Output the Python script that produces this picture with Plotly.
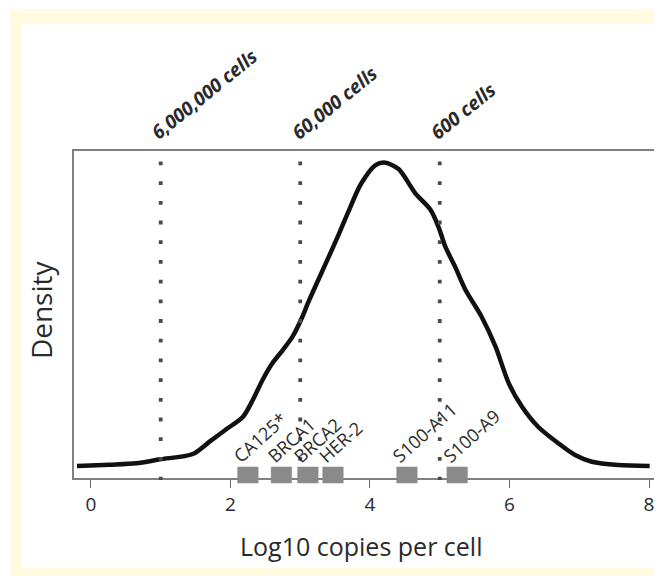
import plotly.graph_objects as go

# ---- data ----
log_copies = [-0.2, 0.27, 0.65, 0.99, 1.46, 1.70, 1.94, 2.18, 2.32, 2.46, 2.60, 2.75,
              2.89, 3.01, 3.13, 3.41, 3.56, 3.70, 3.87, 4.08, 4.22, 4.41, 4.65, 4.87,
              4.99, 5.08, 5.22, 5.37, 5.60, 5.80, 5.99, 6.18, 6.41, 6.70, 6.94, 7.18,
              7.56, 8.01]
density = [0.0000, 0.0012, 0.0026, 0.0065, 0.0118, 0.0240, 0.0363, 0.0487, 0.0653,
           0.0851, 0.1016, 0.1148, 0.1280, 0.1445, 0.1644, 0.2073, 0.2307, 0.2535,
           0.2793, 0.2981, 0.3004, 0.2941, 0.2701, 0.2535, 0.2354, 0.2172, 0.1974,
           0.1743, 0.1478, 0.1181, 0.0818, 0.0586, 0.0388, 0.0224, 0.0108, 0.0041,
           0.0009, 0.0000]

cell_lines_x = [1, 3, 5]
cell_labels = ["6,000,000 cells", "60,000 cells", "600 cells"]

genes = ["CA125*", "BRCA1", "BRCA2", "HER-2", "S100-A11", "S100-A9"]
gene_pos = [2.25, 2.73, 3.11, 3.47, 4.53, 5.25]

x_ticks = [0, 2, 4, 6, 8]

# ---- layout geometry ----
# the page body has an 8px margin, so the figure is drawn 8px in from the window corner
OFF = 8
W, H = 662 - OFF, 576 - OFF
PLOT_L, PLOT_R, PLOT_T, PLOT_B = 74, 657, 151, 478   # window pixels
ML, MR, MT, MB = PLOT_L - OFF, W - (PLOT_R - OFF), PLOT_T - OFF, H - (PLOT_B - OFF)
PW = W - ML - MR
PH = H - MT - MB


def px_x(px):
    return (px - PLOT_L) / PW


def px_y(py):
    return (PLOT_B - py) / PH


FONT = "Open Sans"
TXT = "#2a2a2a"
YELLOW = "#fffae0"

fig = go.Figure()
fig.add_trace(go.Scatter(
    x=log_copies, y=density, mode="lines",
    line=dict(color="#111111", width=4.5, shape="spline", smoothing=0.8),
    hoverinfo="skip", showlegend=False))

shapes = []
# framed background
shapes.append(dict(type="rect", xref="paper", yref="paper", layer="below",
                   x0=px_x(10), x1=px_x(670), y0=px_y(9), y1=px_y(580),
                   fillcolor=YELLOW, line=dict(width=0)))
shapes.append(dict(type="rect", xref="paper", yref="paper", layer="below",
                   x0=px_x(21), x1=px_x(670), y0=px_y(24), y1=px_y(568),
                   fillcolor="white", line=dict(width=0)))
# dotted cell-count lines
for xv in cell_lines_x:
    shapes.append(dict(type="line", xref="x", yref="paper", layer="above",
                       x0=xv, x1=xv, y0=px_y(161.5), y1=px_y(480),
                       line=dict(color="#4a4a4a", width=3.8, dash="3.8px,15.9px")))
# gene markers
half_w = 0.147
for g in gene_pos:
    shapes.append(dict(type="rect", xref="x", yref="paper", layer="above",
                       x0=g - half_w, x1=g + half_w, y0=px_y(483), y1=px_y(467),
                       fillcolor="#8a8a8a", line=dict(color="#8a8a8a", width=0.5)))

annotations = []
for xv, lab in zip(cell_lines_x, cell_labels):
    annotations.append(dict(x=xv, y=px_y(148), xref="x", yref="paper",
                            text="<b><i>" + lab + "</i></b>", showarrow=False,
                            textangle=-39, xanchor="left", yanchor="bottom",
                            xshift=-17,
                            font=dict(family=FONT, size=19, color=TXT)))
for g, lab in zip(gene_pos, genes):
    annotations.append(dict(x=g - half_w, y=px_y(470), xref="x", yref="paper",
                            text=lab, showarrow=False, textangle=-42,
                            xanchor="left", yanchor="bottom", xshift=-12,
                            font=dict(family=FONT, size=18, color=TXT)))
annotations.append(dict(x=px_x(362), y=px_y(546), xref="paper", yref="paper",
                        text="Log10 copies per cell", showarrow=False,
                        xanchor="center", yanchor="middle",
                        font=dict(family=FONT, size=25, color=TXT)))
annotations.append(dict(x=px_x(41), y=px_y(310), xref="paper", yref="paper",
                        text="Density", showarrow=False, textangle=-90,
                        xanchor="center", yanchor="middle",
                        font=dict(family=FONT, size=28, color=TXT)))

fig.update_layout(
    width=W, height=H,
    margin=dict(l=ML, r=MR, t=MT, b=MB, pad=0),
    paper_bgcolor="white", plot_bgcolor="rgba(0,0,0,0)",
    shapes=shapes, annotations=annotations, showlegend=False,
    xaxis=dict(range=[-0.243, 8.086], tickvals=x_ticks,
               ticktext=[str(t) for t in x_ticks],
               ticks="outside", ticklen=8, tickwidth=1.2, tickcolor="#666666",
               showline=True, linecolor="#808080", linewidth=1.5, mirror=True,
               showgrid=False, zeroline=False,
               tickfont=dict(family=FONT, size=19, color=TXT)),
    yaxis=dict(range=[-0.012, 0.312], showticklabels=False, ticks="",
               showline=True, linecolor="#808080", linewidth=1.5, mirror=True,
               showgrid=False, zeroline=False),
)

fig.write_html("out.html")
